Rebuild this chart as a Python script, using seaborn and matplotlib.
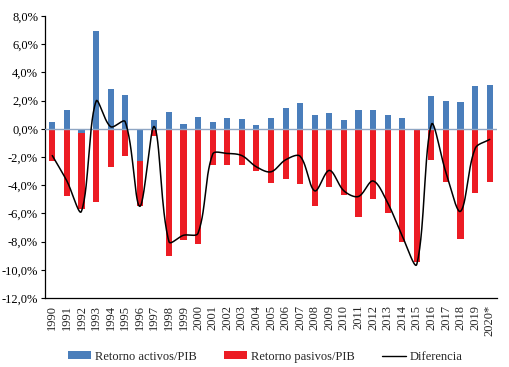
import numpy as np
import pandas as pd
import matplotlib
matplotlib.use("Agg")
import matplotlib.pyplot as plt
import seaborn as sns
from matplotlib.patches import Patch
from matplotlib.lines import Line2D
from matplotlib.ticker import FuncFormatter

years = [str(y) for y in range(1990, 2020)] + ["2020*"]
activos = [0.5, 1.3, -0.3, 6.95, 2.8, 2.4, -2.3, 0.65, 1.2, 0.35, 0.85, 0.45, 0.8, 0.7, 0.25,
           0.8, 1.5, 1.8, 0.95, 1.1, 0.6, 1.35, 1.3, 1.0, 0.75, 0.0, 2.3, 2.0, 1.9, 3.0, 3.1]
pasivos = [-2.3, -4.8, -5.4, -5.2, -2.7, -1.95, -3.2, -0.5, -9.05, -7.9, -8.15, -2.55, -2.6, -2.6, -3.0,
           -3.85, -3.55, -3.9, -5.45, -4.15, -4.7, -6.25, -5.0, -6.0, -8.0, -9.45, -2.2, -3.8, -7.8, -4.55, -3.8]
diferencia = [-1.9, -3.7, -5.85, 1.95, 0.15, 0.5, -5.5, 0.15, -8.0, -7.55, -7.4, -1.8, -1.75, -1.9, -2.7,
              -3.05, -2.2, -1.95, -4.4, -2.95, -4.4, -4.8, -3.7, -5.25, -7.6, -9.6, 0.3, -3.1, -5.85, -1.4, -0.75]

BLUE = "#4A7EBB"
RED = "#EC1C24"

sns.set_style("white")
plt.rcParams["font.family"] = ["Liberation Serif", "DejaVu Serif"]

fig = plt.figure(figsize=(5.10, 3.67), dpi=100)
ax = fig.add_axes([45 / 510, 69 / 367, 452 / 510, 282 / 367])

df = pd.DataFrame({"year": years, "activos": activos, "pasivos": pasivos})
# negative values stack below a negative activos bar
df["pas_stack"] = df["pasivos"] + np.minimum(df["activos"], 0)

sns.barplot(data=df, x="year", y="pas_stack", color=RED, width=0.42, ax=ax,
            saturation=1, edgecolor="none", linewidth=0)
sns.barplot(data=df, x="year", y="activos", color=BLUE, width=0.42, ax=ax,
            saturation=1, edgecolor="none", linewidth=0)

ax.axhline(0, color="#8FA6C4", lw=1.0, zorder=3)

# smoothed line: Bezier with chord-length scaled tangents (screen space)
SX, SY = 14.6, 14.1  # px per category / px per percent
P = np.column_stack([np.arange(len(diferencia)) * SX, np.array(diferencia, float) * SY])
n = len(P)
cin = P.copy()
cout = P.copy()
for i in range(n):
    p0 = P[i - 1] if i > 0 else P[i]
    p2 = P[i + 1] if i < n - 1 else P[i]
    d01 = np.linalg.norm(P[i] - p0)
    d12 = np.linalg.norm(p2 - P[i])
    tot = d01 + d12
    if tot == 0:
        continue
    T = p2 - p0
    cout[i] = P[i] + T * (d12 / tot) / 3.0
    cin[i] = P[i] - T * (d01 / tot) / 3.0
xs_all, ys_all = [], []
t = np.linspace(0, 1, 30)[:, None]
for i in range(n - 1):
    b = ((1 - t) ** 3 * P[i] + 3 * (1 - t) ** 2 * t * cout[i]
         + 3 * (1 - t) * t ** 2 * cin[i + 1] + t ** 3 * P[i + 1])
    if i > 0:
        b = b[1:]
    xs_all.extend(b[:, 0] / SX)
    ys_all.extend(b[:, 1] / SY)
line_df = pd.DataFrame({"x": xs_all, "y": ys_all})
sns.lineplot(data=line_df, x="x", y="y", sort=False, color="black", lw=1.1, ax=ax, zorder=4)

ax.set_xlim(-0.5, 30.5)
ax.set_ylim(-12, 8)
ax.set_yticks(np.arange(-12, 8.1, 2))
ax.yaxis.set_major_formatter(FuncFormatter(lambda v, p: f"{v:.1f}%".replace(".", ",")))
ax.set_xticks(range(len(years)))
ax.set_xticklabels(years, rotation=90, fontsize=9)
ax.tick_params(axis="y", labelsize=9, direction="out", length=3, width=0.8, left=True, pad=2, colors="black")
ax.tick_params(axis="x", length=0, pad=5)
ax.set_xlabel("")
ax.set_ylabel("")

for s in ["top", "right"]:
    ax.spines[s].set_visible(False)
for s in ["left", "bottom"]:
    ax.spines[s].set_color("black")
    ax.spines[s].set_linewidth(0.9)

handles = [Patch(facecolor=BLUE, edgecolor="none"),
           Patch(facecolor=RED, edgecolor="none"),
           Line2D([0], [0], color="black", lw=1.0)]
labels = ["Retorno activos/PIB", "Retorno pasivos/PIB", "Diferencia"]
fig.legend(handles, labels, loc="center", bbox_to_anchor=(0.52, 0.028), ncol=3, frameon=False,
           fontsize=9, handlelength=1.85, handleheight=0.6, handletextpad=0.3, columnspacing=2.2)

fig.savefig("out.png", dpi=100)
